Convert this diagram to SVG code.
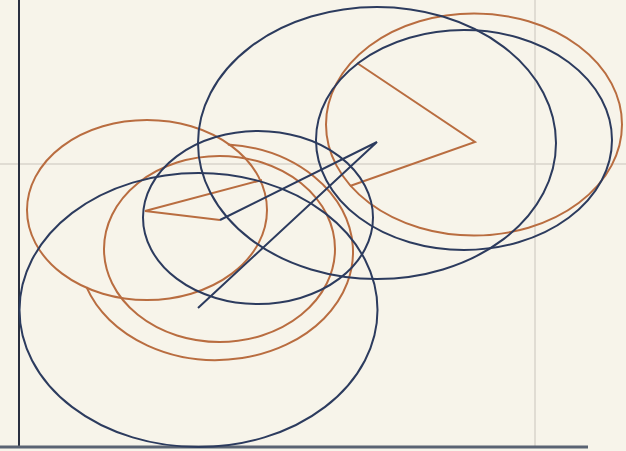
<svg xmlns="http://www.w3.org/2000/svg" width="626" height="451" viewBox="0 0 626 451">
<style>
.b{fill:none;stroke:#2c3b5e;stroke-width:2}
.o{fill:none;stroke:#b96d40;stroke-width:2}
.g{fill:none;stroke:#d9d5cb;stroke-width:1.5}
</style>
<rect width="626" height="451" fill="#f7f4ea"/>
<g id="guides">
<line class="g" x1="0" y1="164" x2="626" y2="164"/>
<line class="g" x1="535" y1="0" x2="535" y2="447"/>
</g>
<g id="axes">
<line x1="19" y1="0" x2="19" y2="448" stroke="#2a3040" stroke-width="2"/>
<line x1="0" y1="447" x2="588" y2="447" stroke="#5a6373" stroke-width="3"/>
</g>
<g id="orange">
<ellipse class="o" cx="147" cy="210" rx="120" ry="90"/>
<ellipse class="o" cx="219.5" cy="249" rx="115.5" ry="93"/>
<path class="o" d="M86.5,287.2 A137,108 0 1 0 227.9,144.4"/>
<ellipse class="o" cx="474" cy="124.5" rx="148" ry="111"/>
<polyline class="o" points="262,180 145,211 220,220"/>
<polyline class="o" points="357,63 475,142 350,186"/>
</g>
<g id="blue">
<ellipse class="b" cx="198.5" cy="310" rx="179" ry="137"/>
<ellipse class="b" cx="258" cy="217.5" rx="115" ry="86.5"/>
<ellipse class="b" cx="377" cy="143" rx="179" ry="136"/>
<ellipse class="b" cx="464" cy="140" rx="148" ry="110"/>
<polyline class="b" points="220,220 377,142 198,308"/>
</g>
</svg>
